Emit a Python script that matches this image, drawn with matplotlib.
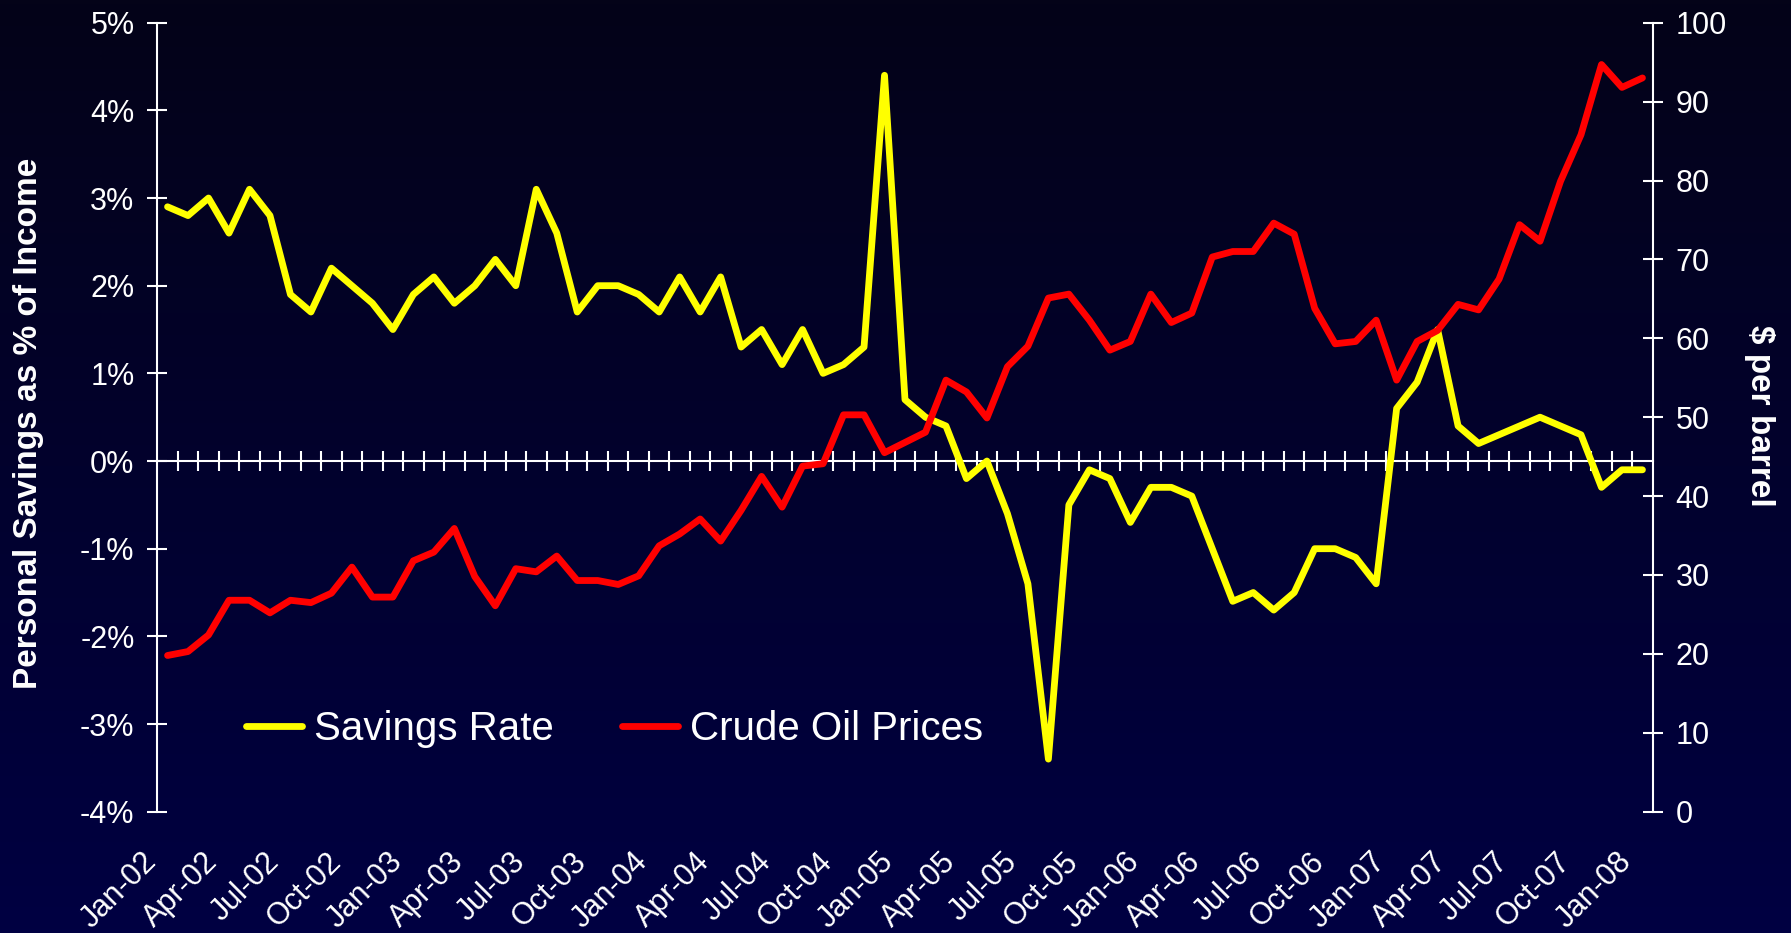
import numpy as np
import matplotlib
matplotlib.use("Agg")
import matplotlib.pyplot as plt
from matplotlib.transforms import offset_copy

plt.rcParams['font.family'] = ['Liberation Sans', 'DejaVu Sans']
plt.rcParams['axes.unicode_minus'] = False

# ---------------- data ----------------
month_names = ["Jan", "Feb", "Mar", "Apr", "May", "Jun",
               "Jul", "Aug", "Sep", "Oct", "Nov", "Dec"]
years = ["02", "03", "04", "05", "06", "07", "08"]
months = [f"{m}-{y}" for y in years for m in month_names][:73]  # Jan-02 .. Jan-08

savings_rate = [2.9, 2.8, 3.0, 2.6, 3.1, 2.8, 1.9, 1.7, 2.2, 2.0, 1.8, 1.5,
                1.9, 2.1, 1.8, 2.0, 2.3, 2.0, 3.1, 2.6, 1.7, 2.0, 2.0, 1.9,
                1.7, 2.1, 1.7, 2.1, 1.3, 1.5, 1.1, 1.5, 1.0, 1.1, 1.3, 4.4,
                0.7, 0.5, 0.4, -0.2, 0.0, -0.6, -1.4, -3.4, -0.5, -0.1, -0.2, -0.7,
                -0.3, -0.3, -0.4, -1.0, -1.6, -1.5, -1.7, -1.5, -1.0, -1.0, -1.1, -1.4,
                0.6, 0.9, 1.5, 0.4, 0.2, 0.3, 0.4, 0.5, 0.4, 0.3, -0.3, -0.1, -0.1]

oil_price = [19.8, 20.3, 22.4, 26.8, 26.8, 25.2, 26.8, 26.5, 27.7, 31.0, 27.2, 27.2,
             31.8, 32.9, 35.9, 29.8, 26.1, 30.8, 30.4, 32.4, 29.3, 29.3, 28.8, 29.9,
             33.7, 35.2, 37.1, 34.3, 38.2, 42.5, 38.6, 43.8, 44.1, 50.3, 50.3, 45.5,
             46.8, 48.1, 54.7, 53.2, 49.9, 56.4, 59.0, 65.1, 65.6, 62.3, 58.5, 59.6,
             65.6, 62.0, 63.2, 70.3, 71.0, 71.0, 74.6, 73.2, 63.8, 59.3, 59.6, 62.3,
             54.7, 59.6, 61.0, 64.3, 63.6, 67.5, 74.4, 72.3, 79.9, 85.8, 94.7, 91.8, 93.0]

tick_labels = ["Jan-02", "Apr-02", "Jul-02", "Oct-02", "Jan-03", "Apr-03", "Jul-03",
               "Oct-03", "Jan-04", "Apr-04", "Jul-04", "Oct-04", "Jan-05", "Apr-05",
               "Jul-05", "Oct-05", "Jan-06", "Apr-06", "Jul-06", "Oct-06", "Jan-07",
               "Apr-07", "Jul-07", "Oct-07", "Jan-08"]

left_ticks = [-4, -3, -2, -1, 0, 1, 2, 3, 4, 5]
right_ticks = [0, 10, 20, 30, 40, 50, 60, 70, 80, 90, 100]

series_names = ["Savings Rate", "Crude Oil Prices"]

# ---------------- figure ----------------
W_PX, H_PX, DPI = 1791, 933, 100
fig = plt.figure(figsize=(W_PX / DPI, H_PX / DPI), dpi=DPI)

# gradient background
bg = fig.add_axes([0, 0, 1, 1])
top_c = np.array([4, 3, 24]) / 255.0
bot_c = np.array([0, 0, 66]) / 255.0
t = np.linspace(0, 1, 256)[:, None, None]
grad = top_c[None, None, :] * (1 - t) + bot_c[None, None, :] * t
bg.imshow(grad, aspect='auto', extent=[0, 1, 0, 1], origin='upper')
bg.set_axis_off()

L, R, T, B = 157.3, 1652.7, 22.7, 811.7
ax = fig.add_axes([L / W_PX, 1 - B / H_PX, (R - L) / W_PX, (B - T) / H_PX])
ax.patch.set_alpha(0)

x = np.arange(len(months))
white = '#FFFFFF'
lw = 4.9

l1, = ax.plot(x, savings_rate, color='#FFFF00', lw=lw, solid_joinstyle='round',
              solid_capstyle='round', zorder=3)
ax.set_xlim(-0.5, len(months) - 0.5)
ax.set_ylim(-4, 5)

for s in ['top', 'right']:
    ax.spines[s].set_visible(False)
ax.spines['left'].set_color(white)
ax.spines['left'].set_linewidth(1.5)
ax.spines['bottom'].set_color(white)
ax.spines['bottom'].set_linewidth(1.5)
ax.spines['bottom'].set_position(('data', 0))

ax.set_xticks(np.arange(0.5, len(months) - 1, 1))
ax.tick_params(axis='x', direction='inout', length=13.7, width=1.5, color=white,
               labelbottom=False)
ax.set_yticks(left_ticks)
ax.set_yticklabels([f"{v}%" for v in left_ticks])
ax.tick_params(axis='y', direction='inout', length=13.7, width=1.5, color=white,
               labelcolor=white, labelsize=22, pad=9.5)

# right axis: oil
ax2 = ax.twinx()
ax2.patch.set_alpha(0)
l2, = ax2.plot(x, oil_price, color='#FF0000', lw=lw, solid_joinstyle='round',
               solid_capstyle='round', zorder=3)
ax2.set_ylim(0, 100)
ax2.set_yticks(right_ticks)
ax2.set_yticklabels([str(v) for v in right_ticks])
for s in ['top', 'left', 'bottom']:
    ax2.spines[s].set_visible(False)
ax2.spines['right'].set_color(white)
ax2.spines['right'].set_linewidth(1.5)
ax2.tick_params(axis='y', direction='inout', length=13.7, width=1.5, color=white,
                labelcolor=white, labelsize=22, pad=9.5)

# category labels at the bottom of the plot area
sec = ax.secondary_xaxis('bottom')
sec.spines['bottom'].set_visible(False)
sec.tick_params(length=0, pad=37, labelsize=22, labelcolor=white)
sec.set_xticks([months.index(lab) for lab in tick_labels], labels=tick_labels)
for lab in sec.get_xticklabels():
    lab.set_rotation(45)
    lab.set_ha('right')
    lab.set_va('baseline')
    lab.set_rotation_mode('anchor')
    lab.set_transform(offset_copy(lab.get_transform(), fig=fig, x=-10, y=0,
                                  units='dots'))

# axis titles
fig.text(29 / W_PX, 1 - 423 / H_PX, "Personal Savings as % of Income", rotation=90,
         ha='center', va='center', fontsize=24, fontweight='bold', color=white)
fig.text(1760 / W_PX, 1 - 416 / H_PX, "$ per barrel", rotation=270,
         ha='center', va='center', fontsize=24, fontweight='bold', color=white)

# legend
fig.legend([l1, l2], series_names, loc='center left',
           bbox_to_anchor=(246 / W_PX, 1 - 729 / H_PX), ncol=2, frameon=False,
           fontsize=29, labelcolor=white, handlelength=1.4, handletextpad=0.3,
           columnspacing=1.68, borderpad=0, borderaxespad=0)

fig.savefig("out.png", dpi=DPI)
